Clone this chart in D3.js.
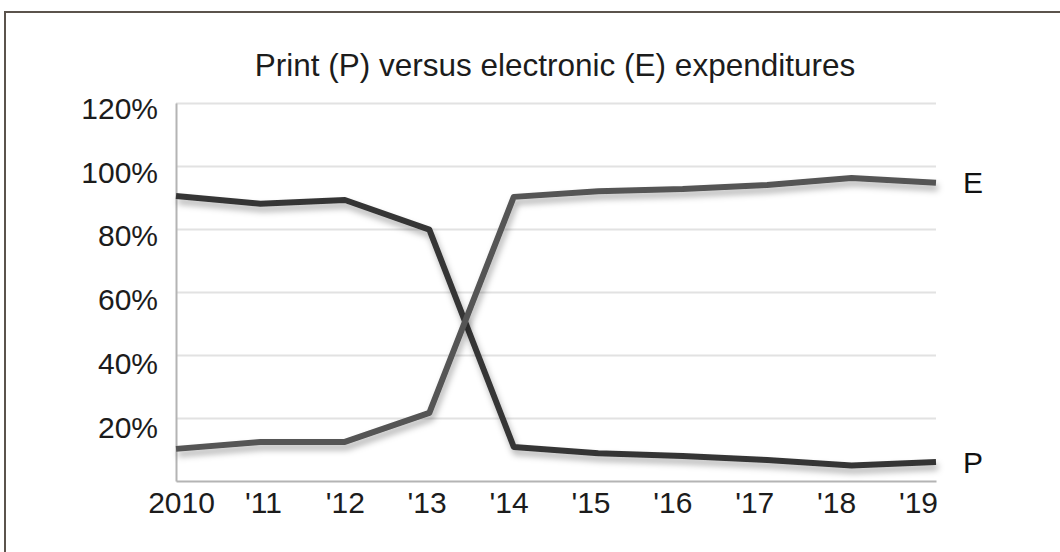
<!DOCTYPE html>
<html>
<head>
<meta charset="utf-8">
<script src="https://cdn.jsdelivr.net/npm/d3@7"></script>
<style>
  html, body { margin: 0; padding: 0; background: #fff; }
  svg { display: block; font-family: "Liberation Sans", Arial, sans-serif; }
</style>
</head>
<body>
<svg id="chart" width="1060" height="552"></svg>
<script>
// Share of spending, percent, by fiscal year
const years = ["2010", "'11", "'12", "'13", "'14", "'15", "'16", "'17", "'18", "'19"];
const printShare      = [90.5, 88.0, 89.2, 79.8, 10.8, 8.8, 7.9, 6.7, 4.9, 6.0];
const electronicShare = [10.2, 12.4, 12.4, 21.6, 90.2, 92.0, 92.7, 94.0, 96.2, 94.7];
const yTicks = [20, 40, 60, 80, 100, 120];
const seriesNames = ["P", "E"];

const svg = d3.select("#chart");
const W = 1060, H = 552;
const plotLeft = 176, plotRight = 936, plotTop = 103, plotBottom = 481;

svg.append("rect").attr("width", W).attr("height", H).attr("fill", "#fff");

// frame around the figure (runs off the right and bottom edges)
svg.append("rect")
  .attr("x", 5).attr("y", 12).attr("width", 1100).attr("height", 600)
  .attr("fill", "none").attr("stroke", "#5b534c").attr("stroke-width", 2);

const x = d3.scalePoint().domain(years).range([plotLeft, plotRight]);
const xLabel = d3.scalePoint().domain(years).range([181, 918]);
const y = d3.scaleLinear().domain([0, 120]).range([plotBottom, plotTop]);
const yLabel = d3.scaleLinear().domain([0, 120]).range([492, 108.5]);

// soft drop shadow under the lines
const defs = svg.append("defs");
const f = defs.append("filter").attr("id", "shadow")
  .attr("filterUnits", "userSpaceOnUse")
  .attr("x", 0).attr("y", 0).attr("width", W).attr("height", H);
f.append("feDropShadow")
  .attr("dx", 2).attr("dy", 5).attr("stdDeviation", 3)
  .attr("flood-color", "#000").attr("flood-opacity", 0.3);

// horizontal gridlines
svg.append("g")
  .attr("transform", `translate(${plotLeft},0)`)
  .call(d3.axisLeft(y).tickValues(yTicks).tickSize(-(plotRight - plotLeft)).tickFormat(""))
  .call(g => g.select(".domain").remove())
  .call(g => g.selectAll(".tick line").attr("stroke", "#e2e2e2").attr("stroke-width", 2));

// axis lines
svg.append("g")
  .attr("transform", `translate(0,${plotBottom})`)
  .call(d3.axisBottom(x).tickSize(0).tickFormat(""))
  .call(g => g.select(".domain").attr("stroke", "#b4b4b4").attr("stroke-width", 2));
svg.append("g")
  .attr("transform", `translate(${plotLeft},0)`)
  .call(d3.axisLeft(y).tickValues([]).tickSize(0))
  .call(g => g.select(".domain").attr("stroke", "#b4b4b4").attr("stroke-width", 2));

// y tick labels
svg.append("g")
  .attr("transform", "translate(158,0)")
  .call(d3.axisLeft(yLabel).tickValues(yTicks).tickSize(0).tickPadding(0).tickFormat(d => d + "%"))
  .call(g => g.select(".domain").remove())
  .call(g => g.selectAll("text")
    .attr("font-size", 30).attr("fill", "#1c1c1c")
    .attr("font-family", "Liberation Sans, Arial, sans-serif"));

// x tick labels
svg.append("g")
  .attr("transform", `translate(0,${plotBottom})`)
  .call(d3.axisBottom(xLabel).tickSize(0).tickPadding(11))
  .call(g => g.select(".domain").remove())
  .call(g => g.selectAll("text")
    .attr("font-size", 30).attr("fill", "#1c1c1c")
    .attr("font-family", "Liberation Sans, Arial, sans-serif"));

// title
svg.append("text")
  .attr("x", 555).attr("y", 76)
  .attr("text-anchor", "middle")
  .attr("font-size", 31.5).attr("fill", "#1c1c1c")
  .text("Print (P) versus electronic (E) expenditures");

// lines
const line = d3.line().x((d, i) => x(years[i])).y(d => y(d));
const series = [
  { name: seriesNames[0], values: printShare, color: "#363636" },
  { name: seriesNames[1], values: electronicShare, color: "#555555" }
];

svg.append("g").selectAll("path").data(series).join("path")
  .attr("d", d => line(d.values))
  .attr("fill", "none")
  .attr("stroke", d => d.color)
  .attr("stroke-width", 6)
  .attr("stroke-linejoin", "round")
  .attr("filter", "url(#shadow)");

// end labels
svg.append("g").selectAll("text").data(series).join("text")
  .attr("x", d => x(years[years.length - 1]) + 27)
  .attr("y", d => y(d.values[d.values.length - 1]))
  .attr("dy", "0.36em")
  .attr("font-size", 30).attr("fill", "#111")
  .text(d => d.name);
</script>
</body>
</html>
